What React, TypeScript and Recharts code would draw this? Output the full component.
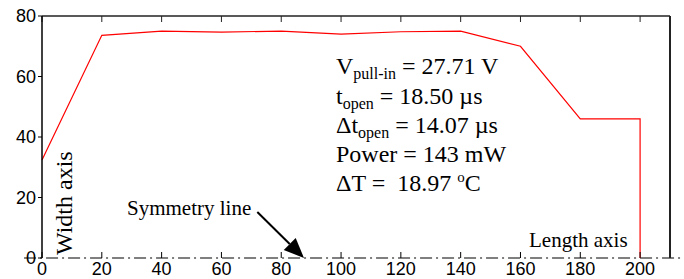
import { LineChart, Line, XAxis, YAxis, ReferenceLine } from "recharts";

// length position along the beam and the width profile
const lengthPos = [0, 20, 40, 60, 80, 100, 120, 140, 160, 180, 200, 200];
const widthVal = [32.4, 73.6, 75, 74.7, 75, 74, 74.8, 75, 70, 46, 46, 0];

const xTicks = [0, 20, 40, 60, 80, 100, 120, 140, 160, 180, 200];
const yTicks = [0, 20, 40, 60, 80];

// symmetry line runs past both ends of the frame; arrow points at it
const symmetryLine = [
  { x: -6, y: 0 },
  { x: 215, y: 0 },
];
const arrowSeg = [
  { x: 72, y: 15.2 },
  { x: 87.6, y: 0 },
];

const data = lengthPos.map((x, i) => ({ x, y: widthVal[i] }));

const axisFont = { fill: "#000", fontSize: 18, fontFamily: "'Liberation Sans', Arial, sans-serif" };
const serif = "'Liberation Serif', 'Times New Roman', serif";

const ArrowShape = (props: any) => {
  const { x1, y1, x2, y2 } = props;
  const ang = Math.atan2(y2 - y1, x2 - x1);
  const len = 20;
  const half = 8.5;
  const bx = x2 - len * Math.cos(ang);
  const by = y2 - len * Math.sin(ang);
  const px = -Math.sin(ang) * half;
  const py = Math.cos(ang) * half;
  return (
    <g>
      <line x1={x1} y1={y1} x2={bx} y2={by} stroke="#000" strokeWidth={2} />
      <polygon points={`${x2},${y2} ${bx + px},${by + py} ${bx - px},${by - py}`} fill="#000" />
    </g>
  );
};

export default function App() {
  return (
    <div style={{ position: "absolute", left: 0, top: 0, width: 684, height: 279, background: "#fff" }}>
      <LineChart width={684} height={279} data={data} margin={{ top: 16, right: 14, bottom: 0, left: 0 }}>
        {/* inward tick marks on the bottom edge */}
        <XAxis
          xAxisId="btm"
          dataKey="x"
          type="number"
          domain={[0, 210]}
          ticks={xTicks}
          orientation="bottom"
          mirror
          axisLine={false}
          tickSize={6}
          tickLine={{ stroke: "#000", strokeWidth: 1 }}
          tickFormatter={() => ""}
        />
        <XAxis
          xAxisId="main"
          dataKey="x"
          type="number"
          domain={[0, 210]}
          ticks={xTicks}
          height={21}
          axisLine={false}
          tickLine={false}
          tickSize={0}
          tickMargin={4}
          tick={axisFont}
        />
        <XAxis
          xAxisId="top"
          dataKey="x"
          type="number"
          domain={[0, 210]}
          ticks={xTicks}
          orientation="top"
          mirror
          axisLine={{ stroke: "#222", strokeWidth: 1.5 }}
          tickSize={6}
          tickLine={{ stroke: "#222" }}
          tickFormatter={() => ""}
        />
        <YAxis
          yAxisId="left"
          domain={[0, 80]}
          ticks={yTicks}
          width={42}
          axisLine={{ stroke: "#000", strokeWidth: 1.5 }}
          tickLine={{ stroke: "#000" }}
          tickSize={4}
          tickMargin={2}
          tick={axisFont}
        />
        <YAxis
          yAxisId="right"
          orientation="right"
          mirror
          domain={[0, 80]}
          ticks={yTicks}
          axisLine={{ stroke: "#222", strokeWidth: 2 }}
          tickLine={{ stroke: "#222" }}
          tickSize={7}
          tickFormatter={() => ""}
        />
        <ReferenceLine
          xAxisId="main"
          yAxisId="left"
          segment={symmetryLine}
          ifOverflow="visible"
          stroke="#7f7f7f"
          strokeWidth={2}
          strokeDasharray="12 4 2 4"
        />
        <Line
          xAxisId="main"
          yAxisId="left"
          type="linear"
          dataKey="y"
          stroke="#ff0000"
          strokeWidth={1.2}
          dot={false}
          isAnimationActive={false}
        />
        <ReferenceLine
          xAxisId="main"
          yAxisId="left"
          segment={arrowSeg}
          ifOverflow="visible"
          shape={ArrowShape}
        />
      </LineChart>
      <svg
        width={684}
        height={279}
        style={{ position: "absolute", left: 0, top: 0, pointerEvents: "none" }}
        fontFamily={serif}
        fill="#000"
      >
        <text transform="translate(72,255) rotate(-90)" fontSize={24}>
          Width axis
        </text>
        <text x={127} y={215} fontSize={21}>
          Symmetry line
        </text>
        <text x={529} y={247} fontSize={21}>
          Length axis
        </text>
        <text x={336} y={74} fontSize={24}>
          V<tspan fontSize={16} dy={5}>pull-in</tspan>
          <tspan dy={-5}> = 27.71 V</tspan>
        </text>
        <text x={336} y={104} fontSize={24}>
          t<tspan fontSize={16} dy={5}>open</tspan>
          <tspan dy={-5}> = 18.50 µs</tspan>
        </text>
        <text x={336} y={133} fontSize={24}>
          Δt<tspan fontSize={16} dy={5}>open</tspan>
          <tspan dy={-5}> = 14.07 µs</tspan>
        </text>
        <text x={336} y={162} fontSize={24}>
          Power = 143 mW
        </text>
        <text x={336} y={191} fontSize={24}>
          {"ΔT = \u00a018.97 "}
          <tspan fontSize={15} dy={-9}>o</tspan>
          <tspan dy={9}>C</tspan>
        </text>
      </svg>
    </div>
  );
}
